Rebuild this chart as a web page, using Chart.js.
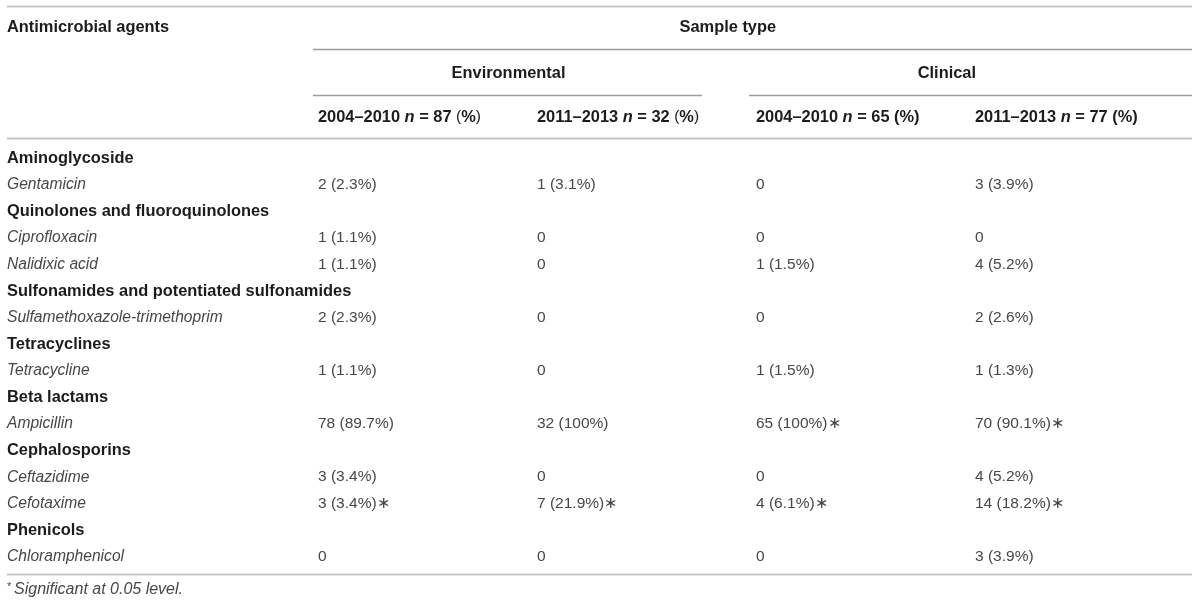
<!DOCTYPE html>
<html lang="en">
<head>
    <meta charset="UTF-8">
    <title>Antimicrobial resistance by sample type</title>
    <script src="https://cdn.jsdelivr.net/npm/chart.js@4.4.1/dist/chart.umd.min.js"></script>
    <style>
        html, body { margin: 0; padding: 0; background: #fff; }
        #tableChart { display: block; }
    </style>
</head>
<body>

    <canvas id="tableChart" width="1200" height="606"></canvas>

    <script>

        // table content
        const rowLabels = [
            'Aminoglycoside', 'Gentamicin',
            'Quinolones and fluoroquinolones', 'Ciprofloxacin', 'Nalidixic acid',
            'Sulfonamides and potentiated sulfonamides', 'Sulfamethoxazole-trimethoprim',
            'Tetracyclines', 'Tetracycline',
            'Beta lactams', 'Ampicillin',
            'Cephalosporins', 'Ceftazidime', 'Cefotaxime',
            'Phenicols', 'Chloramphenicol'
        ];
        const isGroup = [true, false, true, false, false, true, false, true, false,
                         true, false, true, false, false, true, false];

        const env2004 = ['', '2 (2.3%)', '', '1 (1.1%)', '1 (1.1%)', '', '2 (2.3%)', '', '1 (1.1%)',
                         '', '78 (89.7%)', '', '3 (3.4%)', '3 (3.4%)∗', '', '0'];
        const env2011 = ['', '1 (3.1%)', '', '0', '0', '', '0', '', '0',
                         '', '32 (100%)', '', '0', '7 (21.9%)∗', '', '0'];
        const clin2004 = ['', '0', '', '0', '1 (1.5%)', '', '0', '', '1 (1.5%)',
                          '', '65 (100%)∗', '', '0', '4 (6.1%)∗', '', '0'];
        const clin2011 = ['', '3 (3.9%)', '', '0', '4 (5.2%)', '', '2 (2.6%)', '', '1 (1.3%)',
                          '', '70 (90.1%)∗', '', '4 (5.2%)', '14 (18.2%)∗', '', '3 (3.9%)'];

        const firstHeader = 'Antimicrobial agents';
        const spanHeader = 'Sample type';
        const groupHeaders = ['Environmental', 'Clinical'];
        const periods = ['2004–2010', '2011–2013', '2004–2010', '2011–2013'];
        const sampleSizes = [87, 32, 65, 77];
        const footnote = 'Significant at 0.05 level.';

        // layout (pixels)
        const W = 1200, H = 606;
        const colStep = 219, firstColX = 318, labelX = 7, rightX = 1192;
        const rowStep = 26.6, firstRowY = 158;

        const family = '"Liberation Sans", Arial, sans-serif';
        const bodyFont = '15.5px ' + family;
        const italicFont = 'italic 15.6px ' + family;
        const boldFont = 'bold 16.4px ' + family;
        const boldItalicFont = 'italic bold 16.4px ' + family;
        const bodyColor = '#474747';
        const headColor = '#1c1c1c';

        // header rows in row units (negative = above first body row)
        const toRow = px => (px - firstRowY) / rowStep;
        const labelCol = 1 + (labelX - firstColX) / colStep;
        const rightCol = 1 + (rightX - firstColX) / colStep;
        const spanLeftCol = 1 + (313 - firstColX) / colStep;
        const envRightCol = 1 + (702 - firstColX) / colStep;
        const clinLeftCol = 1 + (749 - firstColX) / colStep;

        // one point per cell, positioned by the scales
        const columns = [env2004, env2011, clin2004, clin2011];
        const cellPoints = [];
        columns.forEach((col, c) => {
            col.forEach((txt, r) => {
                if (txt !== '') cellPoints.push({x: c + 1, y: r, text: txt});
            });
        });
        const labelPoints = rowLabels.map((txt, r) => ({x: labelCol, y: r, text: txt, group: isGroup[r]}));

        const headerPoints = periods.map((p, i) => ({x: i + 1, y: toRow(117), period: p, n: sampleSizes[i]}));

        const rules = [
            {y: toRow(6), x0: labelCol, x1: rightCol, color: '#c6c6c6', w: 2},
            {y: toRow(49), x0: spanLeftCol, x1: rightCol, color: '#9c9c9c', w: 1.3},
            {y: toRow(95), x0: spanLeftCol, x1: envRightCol, color: '#9c9c9c', w: 1.3},
            {y: toRow(95), x0: clinLeftCol, x1: rightCol, color: '#9c9c9c', w: 1.3},
            {y: toRow(138), x0: labelCol, x1: rightCol, color: '#c6c6c6', w: 2},
            {y: toRow(574), x0: labelCol, x1: rightCol, color: '#c6c6c6', w: 2}
        ];

        function drawSegments(ctx, x, y, segs) {
            let cx = x;
            segs.forEach(s => {
                ctx.font = s.font;
                ctx.fillText(s.t, cx, y);
                cx += ctx.measureText(s.t).width;
            });
            return cx;
        }

        function segWidth(ctx, segs) {
            let w = 0;
            segs.forEach(s => { ctx.font = s.font; w += ctx.measureText(s.t).width; });
            return w;
        }

        const tablePlugin = {
            id: 'tableText',
            afterDatasetsDraw(chart) {
                const ctx = chart.ctx;
                const xs = chart.scales.x, ys = chart.scales.y;
                ctx.save();
                ctx.textBaseline = 'middle';
                ctx.textAlign = 'left';

                // rules
                rules.forEach(r => {
                    const py = Math.round(ys.getPixelForValue(r.y)) + 0.5;
                    ctx.strokeStyle = r.color;
                    ctx.lineWidth = r.w;
                    ctx.beginPath();
                    ctx.moveTo(xs.getPixelForValue(r.x0), py);
                    ctx.lineTo(xs.getPixelForValue(r.x1), py);
                    ctx.stroke();
                });

                // row labels
                chart.getDatasetMeta(1).data.forEach((el, i) => {
                    const p = labelPoints[i];
                    ctx.font = p.group ? boldFont : italicFont;
                    ctx.fillStyle = p.group ? headColor : bodyColor;
                    ctx.fillText(p.text, el.x, el.y);
                });

                // body cells
                ctx.fillStyle = bodyColor;
                chart.getDatasetMeta(0).data.forEach((el, i) => {
                    ctx.font = bodyFont;
                    ctx.fillText(cellPoints[i].text, el.x, el.y);
                });

                // column headers
                ctx.fillStyle = headColor;
                let rightEdge = [];
                chart.getDatasetMeta(2).data.forEach((el, i) => {
                    const p = headerPoints[i];
                    const paren = i < 2 ? bodyFont : boldFont;
                    const segs = [
                        {t: p.period + ' ', font: boldFont},
                        {t: 'n', font: boldItalicFont},
                        {t: ' = ' + p.n + ' ', font: boldFont},
                        {t: '(', font: paren},
                        {t: '%', font: boldFont},
                        {t: ')', font: paren}
                    ];
                    rightEdge.push(el.x + segWidth(ctx, segs));
                    drawSegments(ctx, el.x, el.y, segs);
                });

                // spanning headers
                const titleY = ys.getPixelForValue(toRow(27));
                const groupY = ys.getPixelForValue(toRow(73));
                ctx.font = boldFont;
                ctx.fillText(firstHeader, xs.getPixelForValue(labelCol), titleY);
                ctx.textAlign = 'center';
                const c1 = xs.getPixelForValue(1), c3 = xs.getPixelForValue(3);
                ctx.fillText(spanHeader, (c1 + rightEdge[3]) / 2, titleY);
                ctx.fillText(groupHeaders[0], (c1 + rightEdge[1]) / 2, groupY);
                ctx.fillText(groupHeaders[1], (c3 + rightEdge[3]) / 2, groupY);

                // footnote
                ctx.textAlign = 'left';
                ctx.fillStyle = bodyColor;
                const fy = ys.getPixelForValue(toRow(590));
                const fx = xs.getPixelForValue(labelCol);
                ctx.font = '11px ' + family;
                ctx.fillText('*', fx, fy - 3);
                ctx.font = 'italic 16px ' + family;
                ctx.fillText(footnote, fx + 7, fy);

                ctx.restore();
            }
        };

        const ctx = document.getElementById('tableChart').getContext('2d');
        const tableChart = new Chart(ctx, {
            type: 'scatter',
            data: {
                datasets: [
                    { label: 'cells', data: cellPoints, pointRadius: 0, pointHoverRadius: 0 },
                    { label: 'labels', data: labelPoints, pointRadius: 0, pointHoverRadius: 0 },
                    { label: 'headers', data: headerPoints, pointRadius: 0, pointHoverRadius: 0 }
                ]
            },
            options: {
                responsive: false,
                animation: false,
                devicePixelRatio: 1,
                layout: { padding: 0 },
                plugins: {
                    legend: { display: false },
                    tooltip: { enabled: false }
                },
                scales: {
                    x: {
                        type: 'linear',
                        display: false,
                        min: 1 - firstColX / colStep,
                        max: 1 + (W - firstColX) / colStep
                    },
                    y: {
                        type: 'linear',
                        display: false,
                        reverse: true,
                        min: -firstRowY / rowStep,
                        max: (H - firstRowY) / rowStep
                    }
                }
            },
            plugins: [tablePlugin]
        });

    </script>

</body>
</html>
